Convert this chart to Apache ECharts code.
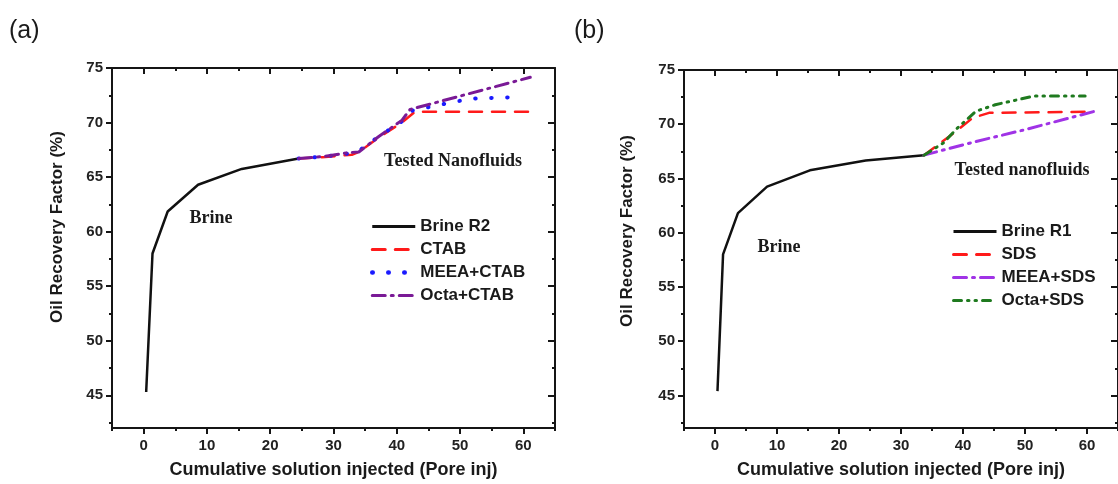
<!DOCTYPE html>
<html>
<head>
<meta charset="utf-8">
<script src="https://cdn.jsdelivr.net/npm/echarts@6/dist/echarts.min.js"></script>
<style>
html,body{margin:0;padding:0;background:#fff;}
#chart{width:1118px;height:484px;}
</style>
</head>
<body>
<div id="chart"></div>
<script>
// ---------- data ----------
const xMajorTicks = [0, 10, 20, 30, 40, 50, 60];
const xMinorTicks = [-5, 5, 15, 25, 35, 45, 55, 65];
const yMajorTicks = [45, 50, 55, 60, 65, 70, 75];
const yMinorTicks = [42.5, 47.5, 52.5, 57.5, 62.5, 67.5, 72.5];

// Panel (a)
const brineR2X = [0.4, 1.4, 3.8, 8.6, 15.5, 24.5];
const brineR2Y = [45.3, 58.0, 61.85, 64.3, 65.75, 66.7];
const ctabX = [24.5, 28.7, 32.9, 34.0, 37.1, 40.8, 42.9, 61.3];
const ctabY = [66.7, 66.85, 67.05, 67.3, 68.6, 70.0, 71.0, 71.0];
const meeaCtabX = [24.5, 28.7, 32.9, 34.0, 37.1, 40.8, 42.5, 49.5, 52.1, 59.8];
const meeaCtabY = [66.7, 66.9, 67.2, 67.4, 68.7, 70.1, 71.1, 71.95, 72.2, 72.35];
const octaCtabX = [24.5, 28.7, 32.5, 34.0, 37.1, 40.8, 42.1, 61.1];
const octaCtabY = [66.7, 66.9, 67.25, 67.3, 68.7, 70.2, 71.2, 74.15];

// Panel (b)
const brineR1X = [0.4, 1.3, 3.7, 8.4, 15.3, 24.3, 33.7];
const brineR1Y = [45.4, 58.0, 61.8, 64.25, 65.75, 66.65, 67.15];
const sdsX = [33.7, 39.0, 41.6, 44.2, 60.0];
const sdsY = [67.15, 69.4, 70.6, 71.05, 71.15];
const meeaSdsX = [33.7, 42.0, 50.0, 61.3];
const meeaSdsY = [67.15, 68.4, 69.5, 71.2];
const octaSdsX = [33.7, 36.9, 39.0, 42.1, 45.2, 51.5, 59.7];
const octaSdsY = [67.15, 68.3, 69.6, 71.2, 71.8, 72.6, 72.6];

const xTitle = 'Cumulative solution injected (Pore inj)';
const yTitle = 'Oil Recovery Factor (%)';

// ---------- helpers ----------
const zip = (xs, ys) => xs.map((x, i) => [x, ys[i]]);
const SANS = 'Liberation Sans, Arial, sans-serif';
const SERIF = 'Liberation Serif, Times New Roman, serif';
const INK = '#151515';

function xAxesFor(gi) {
  const base = {gridIndex: gi, type: 'value', min: -5, max: 65, splitLine: {show: false}};
  return [
    Object.assign({}, base, {
      position: 'bottom',
      axisLine: {show: true, onZero: false, lineStyle: {color: INK, width: 2}},
      axisTick: {show: true, customValues: xMajorTicks, length: 6, lineStyle: {color: INK, width: 2}},
      axisLabel: {customValues: xMajorTicks, fontSize: 15, fontWeight: 'bold', color: '#222', fontFamily: SANS, margin: 10},
      name: xTitle, nameLocation: 'middle', nameGap: 33,
      nameTextStyle: {fontSize: 18, fontWeight: 'bold', color: '#1a1a1a', fontFamily: SANS}
    }),
    Object.assign({}, base, {
      position: 'bottom',
      axisLine: {show: false, onZero: false},
      axisTick: {show: true, customValues: xMinorTicks, length: 3, lineStyle: {color: INK, width: 2}},
      axisLabel: {show: false}
    }),
    Object.assign({}, base, {
      position: 'top',
      axisLine: {show: true, onZero: false, lineStyle: {color: INK, width: 2}},
      axisTick: {show: true, inside: true, customValues: xMajorTicks, length: 6, lineStyle: {color: INK, width: 2}},
      axisLabel: {show: false}
    }),
    Object.assign({}, base, {
      position: 'top',
      axisLine: {show: false, onZero: false},
      axisTick: {show: true, inside: true, customValues: xMinorTicks, length: 3, lineStyle: {color: INK, width: 2}},
      axisLabel: {show: false}
    })
  ];
}

function yAxesFor(gi) {
  const base = {gridIndex: gi, type: 'value', min: 42, max: 75, splitLine: {show: false}};
  return [
    Object.assign({}, base, {
      position: 'left',
      axisLine: {show: true, onZero: false, lineStyle: {color: INK, width: 2}},
      axisTick: {show: true, customValues: yMajorTicks, length: 6, lineStyle: {color: INK, width: 2}},
      axisLabel: {customValues: yMajorTicks, fontSize: 15, fontWeight: 'bold', color: '#222', fontFamily: SANS, margin: 9}
    }),
    Object.assign({}, base, {
      position: 'left',
      axisLine: {show: false, onZero: false},
      axisTick: {show: true, customValues: yMinorTicks, length: 3, lineStyle: {color: INK, width: 2}},
      axisLabel: {show: false}
    }),
    Object.assign({}, base, {
      position: 'right',
      axisLine: {show: true, onZero: false, lineStyle: {color: INK, width: 2}},
      axisTick: {show: true, inside: true, customValues: yMajorTicks, length: 7, lineStyle: {color: INK, width: 2}},
      axisLabel: {show: false}
    }),
    Object.assign({}, base, {
      position: 'right',
      axisLine: {show: false, onZero: false},
      axisTick: {show: true, inside: true, customValues: yMinorTicks, length: 3, lineStyle: {color: INK, width: 2}},
      axisLabel: {show: false}
    })
  ];
}

function lineSeries(name, data, color, type, axisIdx, width) {
  return {
    name: name, type: 'line', data: data,
    xAxisIndex: axisIdx, yAxisIndex: axisIdx,
    symbol: 'none', smooth: false,
    lineStyle: {color: color, width: width || 2.5, type: type, cap: type === 'solid' ? 'butt' : 'round'},
    itemStyle: {color: color, opacity: 0},
    emphasis: {disabled: true},
    animation: false
  };
}

const DASH = [13, 10];
const DOT = [0.5, 15.5];
const DASHDOT = [13, 6, 2, 6];
const DASHDOTDOT = [8, 6, 1.5, 6, 1.5, 6];

const chart = echarts.init(document.getElementById('chart'), null, {renderer: 'canvas'});

const legendCommon = {
  orient: 'vertical', padding: 0,
  itemWidth: 43, itemHeight: 17, itemGap: 6,
  itemStyle: {opacity: 0},
  lineStyle: {width: 3},
  textStyle: {fontSize: 17, fontWeight: 'bold', color: '#1a1a1a', fontFamily: SANS},
  selectedMode: false
};

const option = {
  backgroundColor: '#ffffff',
  animation: false,
  grid: [
    {left: 112, top: 68, width: 443, height: 361, containLabel: false},
    {left: 684, top: 70, width: 445, height: 362, containLabel: false}
  ],
  xAxis: xAxesFor(0).concat(xAxesFor(1)),
  yAxis: yAxesFor(0).concat(yAxesFor(1)),
  legend: [
    Object.assign({}, legendCommon, {left: 370, top: 218, data: ['Brine R2', 'CTAB', {name: 'MEEA+CTAB', lineStyle: {width: 4.5}}, 'Octa+CTAB']}),
    Object.assign({}, legendCommon, {left: 952, top: 223, data: ['Brine R1', 'SDS', 'MEEA+SDS', 'Octa+SDS']})
  ],
  graphic: [
    {type: 'text', left: 9, top: 19, style: {text: '(a)', fontSize: 25, fill: '#1a1a1a', fontFamily: SANS}},
    {type: 'text', left: 574, top: 19, style: {text: '(b)', fontSize: 25, fill: '#1a1a1a', fontFamily: SANS}},
    {type: 'text', x: 57, y: 227, rotation: Math.PI / 2,
      style: {text: yTitle, fontSize: 17, fontWeight: 'bold', fill: '#1a1a1a', fontFamily: SANS, align: 'center', verticalAlign: 'middle'}},
    {type: 'text', x: 627, y: 231, rotation: Math.PI / 2,
      style: {text: yTitle, fontSize: 17, fontWeight: 'bold', fill: '#1a1a1a', fontFamily: SANS, align: 'center', verticalAlign: 'middle'}},
    {type: 'text', x: 211, y: 218,
      style: {text: 'Brine', fontSize: 18, fontWeight: 'bold', fill: '#1a1a1a', fontFamily: SERIF, align: 'center', verticalAlign: 'middle'}},
    {type: 'text', x: 453, y: 161,
      style: {text: 'Tested Nanofluids', fontSize: 18, fontWeight: 'bold', fill: '#1a1a1a', fontFamily: SERIF, align: 'center', verticalAlign: 'middle'}},
    {type: 'text', x: 779, y: 247,
      style: {text: 'Brine', fontSize: 18, fontWeight: 'bold', fill: '#1a1a1a', fontFamily: SERIF, align: 'center', verticalAlign: 'middle'}},
    {type: 'text', x: 1022, y: 170,
      style: {text: 'Tested nanofluids', fontSize: 18, fontWeight: 'bold', fill: '#1a1a1a', fontFamily: SERIF, align: 'center', verticalAlign: 'middle'}}
  ],
  series: [
    lineSeries('Brine R2', zip(brineR2X, brineR2Y), '#111111', 'solid', 0, 2.5),
    lineSeries('CTAB', zip(ctabX, ctabY), '#ff1a1a', DASH, 0, 2.5),
    lineSeries('MEEA+CTAB', zip(meeaCtabX, meeaCtabY), '#1a1aff', DOT, 0, 4),
    lineSeries('Octa+CTAB', zip(octaCtabX, octaCtabY), '#7a1a96', DASHDOT, 0, 3),
    lineSeries('Brine R1', zip(brineR1X, brineR1Y), '#111111', 'solid', 4, 2.5),
    lineSeries('SDS', zip(sdsX, sdsY), '#ff1a1a', DASH, 4, 2.5),
    lineSeries('MEEA+SDS', zip(meeaSdsX, meeaSdsY), '#a033e6', DASHDOT, 4, 3),
    lineSeries('Octa+SDS', zip(octaSdsX, octaSdsY), '#1f7a1f', DASHDOTDOT, 4, 3)
  ]
};

chart.setOption(option);
</script>
</body>
</html>
